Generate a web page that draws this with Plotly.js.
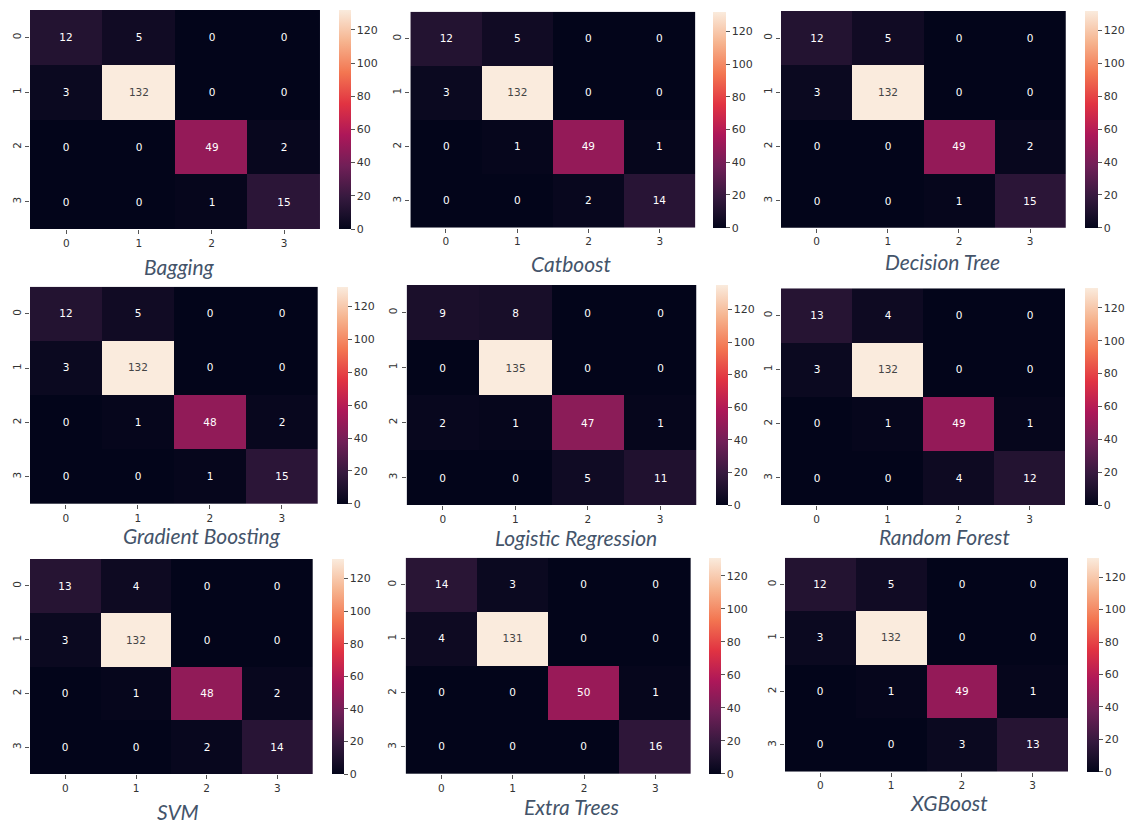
<!DOCTYPE html>
<html><head><meta charset="utf-8">
<script src="https://cdn.plot.ly/plotly-3.0.1.min.js"></script>
<style>html,body{margin:0;padding:0;background:#fff;}#chart{width:1126px;height:826px;}</style>
</head><body><div id="chart"></div>
<script>
// ---- data ----
const models = ["Bagging","Catboost","Decision Tree","Gradient Boosting","Logistic Regression","Random Forest","SVM","Extra Trees","XGBoost"];
const classLabels = ["0","1","2","3"];
const cmBagging = [[12,5,0,0],[3,132,0,0],[0,0,49,2],[0,0,1,15]];
const cmCatboost = [[12,5,0,0],[3,132,0,0],[0,1,49,1],[0,0,2,14]];
const cmDecisionTree = [[12,5,0,0],[3,132,0,0],[0,0,49,2],[0,0,1,15]];
const cmGradientBoosting = [[12,5,0,0],[3,132,0,0],[0,1,48,2],[0,0,1,15]];
const cmLogisticRegression = [[9,8,0,0],[0,135,0,0],[2,1,47,1],[0,0,5,11]];
const cmRandomForest = [[13,4,0,0],[3,132,0,0],[0,1,49,1],[0,0,4,12]];
const cmSVM = [[13,4,0,0],[3,132,0,0],[0,1,48,2],[0,0,2,14]];
const cmExtraTrees = [[14,3,0,0],[4,131,0,0],[0,0,50,1],[0,0,0,16]];
const cmXGBoost = [[12,5,0,0],[3,132,0,0],[0,1,49,1],[0,0,3,13]];
const matrices = [cmBagging,cmCatboost,cmDecisionTree,cmGradientBoosting,cmLogisticRegression,cmRandomForest,cmSVM,cmExtraTrees,cmXGBoost];

// ---- layout geometry (pixels) ----
const W = 1126, H = 826;
// [hmLeft, hmRight, hmTop, hmBottom, cbLeft, cbRight, titleX, titleY]
const geom = [
  [30,320.7,10,229, 339,351, 180,267],
  [410.7,696,11.7,227.7, 713,726, 571.7,263],
  [781.7,1066.7,11,227.7, 1085,1098, 943,261],
  [30,318,286.7,504, 336.7,347.7, 201.7,535],
  [407,697,285,505, 715.7,727.3, 576.7,537.5],
  [781.7,1066,288.3,505, 1085,1097.7, 945,536.5],
  [30,313,559,774, 332,344, 178,811],
  [406,691.7,557.7,774, 709.3,721.7, 571.7,806],
  [785.7,1069,557.7,771.7, 1087.3,1099, 950,802]
];

const rocket = [
  [0.0,'rgb(3,5,26)'],
  [0.07,'rgb(28,16,44)'],
  [0.143,'rgb(53,25,62)'],
  [0.286,'rgb(112,31,87)'],
  [0.429,'rgb(173,23,89)'],
  [0.571,'rgb(225,51,66)'],
  [0.714,'rgb(243,118,81)'],
  [0.857,'rgb(246,180,143)'],
  [1.0,'rgb(250,235,221)']
];

const px = x => x / W;
const py = y => 1 - y / H;

const traces = [];
const layout = {
  width: W, height: H,
  margin: {l:0,r:0,t:0,b:0},
  paper_bgcolor: '#fff', plot_bgcolor: '#fff',
  showlegend: false,
  font: {family: 'DejaVu Sans', size: 10, color: '#333'},
  annotations: []
};

matrices.forEach((m, i) => {
  const g = geom[i];
  const n = i + 1;
  const xa = 'x' + (n === 1 ? '' : n);
  const ya = 'y' + (n === 1 ? '' : n);
  const zmax = Math.max(...m.flat());
  traces.push({
    type: 'heatmap',
    z: m,
    x: classLabels.map(Number),
    y: classLabels.map(Number),
    xaxis: xa, yaxis: ya,
    colorscale: rocket,
    zmin: 0, zmax: zmax,
    xgap: 0, ygap: 0,
    texttemplate: '%{z}',
    textfont: {family: 'DejaVu Sans', size: 10.5},
    hoverinfo: 'skip',
    colorbar: {
      x: px(g[4]), xanchor: 'left', xref: 'paper',
      y: py((g[2]+g[3])/2), yanchor: 'middle', yref: 'paper',
      len: (g[3]-g[2])/H, lenmode: 'fraction',
      thickness: g[5]-g[4], thicknessmode: 'pixels',
      outlinewidth: 0,
      ticks: 'outside', ticklen: 4, tickwidth: 1, tickcolor: '#555',
      tick0: 0, dtick: 20,
      tickfont: {family: 'DejaVu Sans', size: 11, color: '#333'},
      xpad: 0, ypad: 0
    }
  });
  const xkey = 'xaxis' + (n === 1 ? '' : n);
  const ykey = 'yaxis' + (n === 1 ? '' : n);
  layout[xkey] = {
    domain: [px(g[0]), px(g[1])],
    anchor: ya,
    range: [-0.5, 3.5],
    tickvals: [0,1,2,3], ticktext: classLabels,
    ticks: 'outside', ticklen: 4, tickcolor: '#555',
    showgrid: false, zeroline: false,
    showline: false,
    tickfont: {family: 'DejaVu Sans', size: 10.5, color: '#333'},
    fixedrange: true
  };
  layout[ykey] = {
    domain: [py(g[3]), py(g[2])],
    anchor: xa,
    range: [3.5, -0.5],
    tickvals: [0,1,2,3], ticktext: classLabels,
    tickangle: -90,
    ticks: 'outside', ticklen: 4, tickcolor: '#555',
    showgrid: false, zeroline: false,
    showline: false,
    tickfont: {family: 'DejaVu Sans', size: 10.5, color: '#333'},
    fixedrange: true
  };
  layout.annotations.push({
    text: '<i>' + models[i] + '</i>',
    xref: 'paper', yref: 'paper',
    x: px(g[6]), y: py(g[7]),
    xanchor: 'center', yanchor: 'middle',
    showarrow: false,
    font: {family: 'Lato', size: 21, color: '#44546a'}
  });
});

Plotly.newPlot('chart', traces, layout, {staticPlot: true, displayModeBar: false});
</script>
</body></html>
